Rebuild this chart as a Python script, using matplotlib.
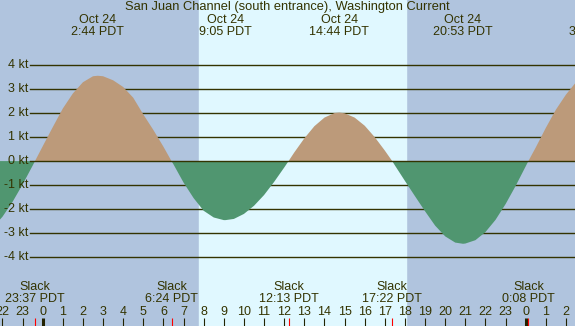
import numpy as np
import matplotlib
matplotlib.use("Agg")
import matplotlib.pyplot as plt
import matplotlib.transforms as mtransforms

plt.rcParams['font.family'] = ['Liberation Sans', 'DejaVu Sans']

# current speed (kt) every half hour, hours from Oct 24 00:00
sample_hours = np.arange(-2.5, 27.01, 0.5)
sample_speeds = [-2.80, -2.33, -1.71, -0.98, -0.19,
                 0.62, 1.42, 2.20, 2.83, 3.30, 3.55,
                 3.55, 3.38, 3.10, 2.65, 1.95, 1.30, 0.60,
                 -0.14, -0.90, -1.55, -2.08, -2.36, -2.47,
                 -2.42, -2.21, -1.87, -1.42, -0.87, -0.27,
                 0.36, 0.95, 1.46, 1.82, 2.01,
                 2.00, 1.82, 1.48, 1.00, 0.44,
                 -0.18, -0.83, -1.47, -2.10, -2.70, -3.15, -3.41,
                 -3.45, -3.31, -2.97, -2.46, -1.80, -1.04, -0.22,
                 0.57, 1.39, 2.15, 2.78, 3.30, 3.50]

# max / min flood and ebb events
peak_hours = [2.733, 9.083, 14.733, 20.883, 27.45]
peak_speeds = [3.57, -2.47, 2.03, -3.46, 3.6]
peak_dates = ["Oct 24", "Oct 24", "Oct 24", "Oct 24", "Oct 25"]
peak_labels = ["2:44 PDT", "9:05 PDT", "14:44 PDT", "20:53 PDT", "3:18 PDT"]

# slack water events
slack_hours = [-0.383, 6.4, 12.217, 17.367, 24.133]
slack_labels = ["23:37 PDT", "6:24 PDT", "12:13 PDT", "17:22 PDT", "0:08 PDT"]

sunrise, sunset = 7.77, 18.05
speed_ticks = [4, 3, 2, 1, 0, -1, -2, -3, -4]
hour_ticks = list(range(-2, 27))

night = '#b0c4de'
day = '#e0f8ff'
flood = '#bc9a7a'
ebb = '#509670'
ink = '#333300'

# merge samples with the event points
h = np.concatenate([sample_hours, peak_hours[:4], slack_hours])
v = np.concatenate([sample_speeds, peak_speeds[:4], np.zeros(len(slack_hours))])
order = np.argsort(h)
h, v = h[order], v[order]

fig = plt.figure(figsize=(5.75, 3.26), dpi=100)
ax = fig.add_axes([0, 0, 1, 1])
ax.set_xlim(-2.122, 26.45)
ax.set_ylim(-6.90, 6.74)
ax.axis('off')

ax.axvspan(-5, 30, color=night, zorder=0)
ax.axvspan(sunrise, sunset, color=day, zorder=0.5)

for s in speed_ticks:
    if s != 0:
        ax.axhline(s, xmin=0.052, xmax=1, color=ink, lw=1.0, zorder=1)

ax.fill_between(h, v, 0, where=v >= 0, interpolate=True, color=flood, lw=0, zorder=2)
ax.fill_between(h, v, 0, where=v <= 0, interpolate=True, color=ebb, lw=0, zorder=2)
ax.axhline(0, xmin=0.052, xmax=1, color=ink, lw=1.0, zorder=3)

xdata_yaxes = mtransforms.blended_transform_factory(ax.transData, ax.transAxes)
xaxes_ydata = mtransforms.blended_transform_factory(ax.transAxes, ax.transData)

for s in speed_ticks:
    ax.text(0.049, s, f"{s} kt", transform=xaxes_ydata, ha='right', va='center',
            fontsize=9, color=ink, zorder=4)

# hour ticks along the bottom
for hr in hour_ticks:
    lw = 2.2 if hr % 24 == 0 else 0.8
    ax.plot([hr, hr], [0, 0.025], transform=xdata_yaxes, color='#222200', lw=lw,
            solid_capstyle='butt', zorder=4)
    ax.text(hr, 0.044, str(hr % 24), transform=xdata_yaxes, ha='center', va='center',
            fontsize=9, color=ink, zorder=4)
for sh in slack_hours:
    ax.plot([sh, sh], [0, 0.025], transform=xdata_yaxes, color='red', lw=0.8,
            solid_capstyle='butt', zorder=4)
    ax.text(sh, 0.119, "Slack", transform=xdata_yaxes, ha='center', va='center',
            fontsize=9, color=ink, zorder=4)

for sh, lab in zip(slack_hours, slack_labels):
    ax.text(sh, 0.082, lab, transform=xdata_yaxes, ha='center', va='center',
            fontsize=9, color=ink, zorder=4)

for ph, d, lab in zip(peak_hours, peak_dates, peak_labels):
    ax.text(ph, 0.939, d, transform=xdata_yaxes, ha='center', va='center',
            fontsize=9, color=ink, zorder=4, clip_on=False)
    ax.text(ph, 0.903, lab, transform=xdata_yaxes, ha='center', va='center',
            fontsize=9, color=ink, zorder=4, clip_on=False)

ax.text(0.5, 0.978, "San Juan Channel (south entrance), Washington Current",
        transform=ax.transAxes, ha='center', va='center', fontsize=9.3, color=ink, zorder=4)

fig.savefig("out.png", dpi=100)
